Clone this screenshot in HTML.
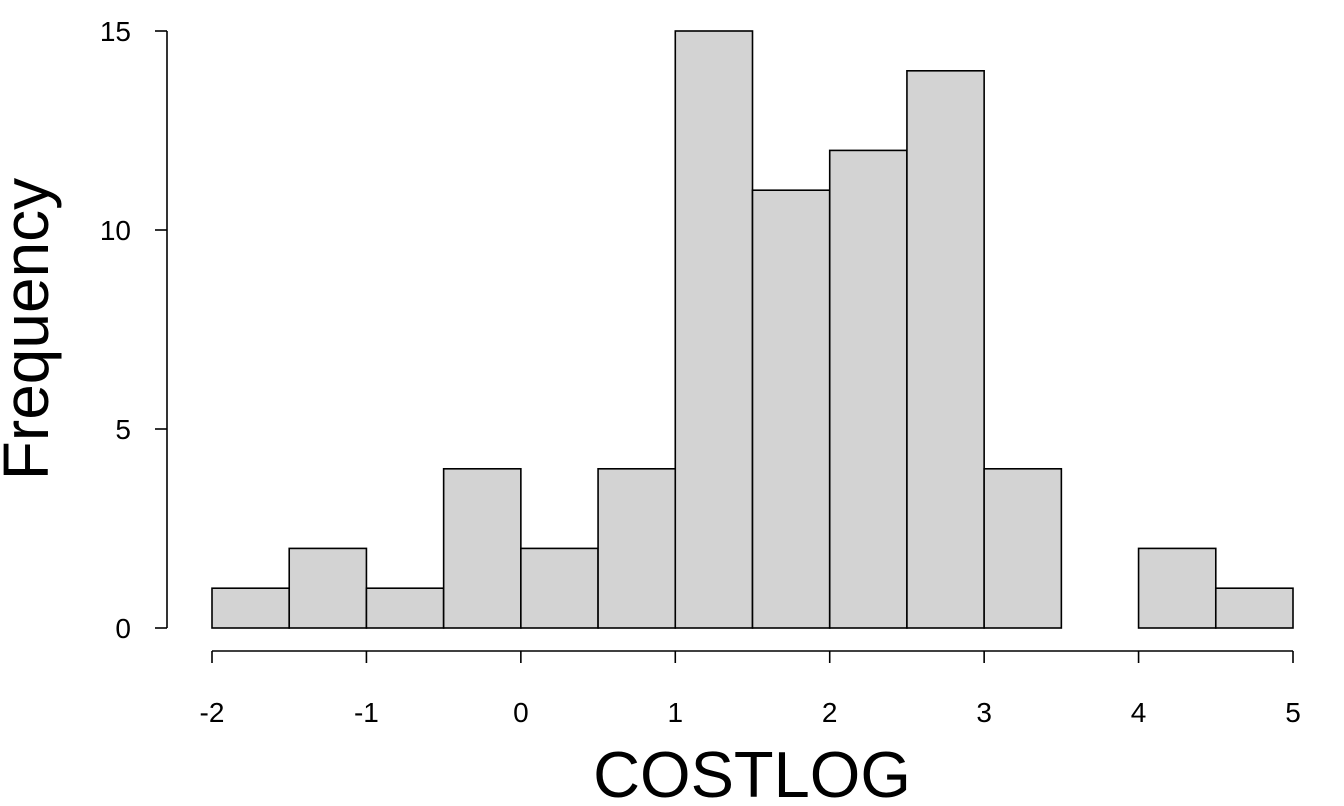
<!DOCTYPE html>
<html><head><meta charset="utf-8"><style>
html,body{margin:0;padding:0;background:#fff;}
svg{display:block;font-family:"Liberation Sans",Arial,sans-serif;}
</style></head><body>
<svg id="chart" width="1344" height="806" viewBox="0 0 1344 806"></svg>
<script>
const binStarts = [-2,-1.5,-1,-0.5,0,0.5,1,1.5,2,2.5,3,3.5,4,4.5];
const binWidth = 0.5;
const counts = [1,2,1,4,2,4,15,11,12,14,4,0,2,1];
const xTicks = [-2,-1,0,1,2,3,4,5];
const yTicks = [0,5,10,15];

const NS = "http://www.w3.org/2000/svg";
const svg = document.getElementById('chart');
const xs = v => 212 + (v + 2) * (1081 / 7);
const ys = v => 628 - v * (597 / 15);
function mk(tag, attrs){ const e = document.createElementNS(NS, tag); for (const k in attrs) e.setAttribute(k, attrs[k]); svg.appendChild(e); return e; }

counts.forEach((c, i) => {
  if (c <= 0) return;
  const x0 = xs(binStarts[i]), x1 = xs(binStarts[i] + binWidth);
  const r = mk('rect', {x: x0, y: ys(c), width: x1 - x0, height: ys(0) - ys(c), fill: '#d3d3d3', stroke: '#000', 'stroke-width': 1.6});
  
  
});

const ya = mk('line', {x1: 167, x2: 167, y1: ys(15), y2: ys(0), stroke: '#000', 'stroke-width': 1.6});


yTicks.forEach(t => {
  const l = mk('line', {x1: 155, x2: 167, y1: ys(t), y2: ys(t), stroke: '#000', 'stroke-width': 1.6});
  
  
  const tx = mk('text', {x: 131, y: ys(t) + 10, 'text-anchor': 'end', 'font-size': 28});
  tx.textContent = t;
  
  
});

const xa = mk('line', {x1: xs(-2), x2: xs(5), y1: 651, y2: 651, stroke: '#000', 'stroke-width': 1.6});


xTicks.forEach(t => {
  const l = mk('line', {x1: xs(t), x2: xs(t), y1: 651, y2: 663, stroke: '#000', 'stroke-width': 1.6});
  
  
  const tx = mk('text', {x: xs(t), y: 722, 'text-anchor': 'middle', 'font-size': 28});
  tx.textContent = t;
  
  
});

const xt = mk('text', {x: 752, y: 797, 'text-anchor': 'middle', 'font-size': 65});
xt.textContent = 'COSTLOG';



const yt = mk('text', {x: 0, y: 0, 'text-anchor': 'middle', 'font-size': 64, transform: 'translate(48,329) rotate(-90)'});
yt.textContent = 'Frequency';


</script>
</body></html>
